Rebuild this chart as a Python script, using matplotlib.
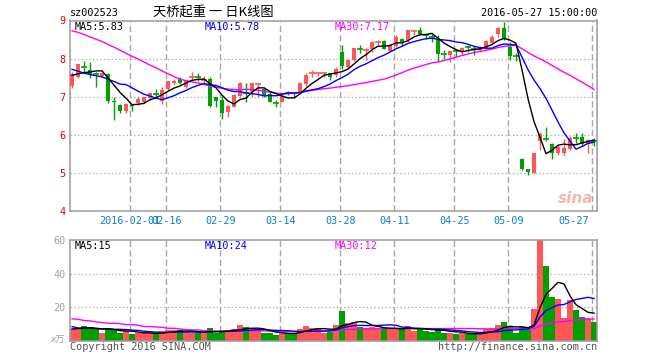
import matplotlib
matplotlib.use("Agg")
import matplotlib.pyplot as plt
import matplotlib.transforms as mtransforms
import numpy as np
import pandas as pd

# figure size in pixels, every position below is given in these pixels
W, H = 660, 360

# daily candles 2016-01-18 .. 2016-05-27 (index 0..87)
opens = [7.29, 7.53, 7.80, 7.70, 7.60, 7.54, 7.60, 6.90, 6.79, 6.62,
         6.79, 6.83, 6.87, 6.96, 7.08, 6.88, 7.20, 7.37, 7.47, 7.26,
         7.52, 7.54, 7.43, 7.46, 6.98, 6.92, 6.59, 6.74, 7.02, 7.10,
         7.13, 7.32, 7.19, 7.07, 6.84, 6.87, 7.12, 7.09, 7.13, 7.33,
         7.62, 7.60, 7.60, 7.61, 7.57, 8.18, 7.78, 7.96, 8.25, 8.23,
         8.26, 8.43, 8.46, 8.20, 8.32, 8.52, 8.48, 8.73, 8.74, 8.62,
         8.59, 8.52, 8.12, 8.09, 8.21, 8.18, 8.32, 8.25, 8.22, 8.29,
         8.41, 8.65, 8.81, 8.31, 8.07, 5.37, 5.09, 5.01, 5.83, 5.91,
         5.77, 5.51, 5.51, 5.63, 5.93, 5.94, 5.77, 5.84]
highs = [7.66, 7.87, 7.93, 7.92, 7.65, 7.64, 7.62, 7.00, 6.80, 6.84,
         6.82, 6.98, 7.00, 7.13, 7.20, 7.26, 7.41, 7.46, 7.52, 7.47,
         7.65, 7.62, 7.55, 7.52, 6.99, 7.02, 6.79, 7.07, 7.39, 7.35,
         7.37, 7.35, 7.25, 7.13, 6.92, 7.11, 7.16, 7.13, 7.38, 7.63,
         7.70, 7.66, 7.66, 7.63, 7.77, 8.35, 7.98, 8.29, 8.37, 8.27,
         8.46, 8.48, 8.50, 8.38, 8.61, 8.53, 8.76, 8.75, 8.83, 8.65,
         8.65, 8.61, 8.22, 8.20, 8.24, 8.31, 8.35, 8.32, 8.32, 8.50,
         8.61, 8.84, 8.96, 8.44, 8.15, 5.38, 5.10, 5.51, 6.07, 6.20,
         5.79, 5.72, 5.89, 5.96, 6.05, 6.05, 5.88, 5.92]
lows = [7.24, 7.48, 7.66, 7.48, 7.25, 7.51, 6.84, 6.40, 6.58, 6.58,
        6.63, 6.78, 6.83, 6.92, 6.96, 6.82, 7.17, 7.30, 7.33, 7.22,
        7.45, 7.42, 7.33, 6.72, 6.72, 6.41, 6.47, 6.72, 6.99, 6.85,
        7.00, 7.00, 7.00, 6.86, 6.73, 6.86, 7.04, 6.96, 7.11, 7.28,
        7.52, 7.54, 7.53, 7.44, 7.52, 7.74, 7.72, 7.94, 8.15, 7.96,
        8.18, 8.35, 8.24, 8.18, 8.31, 8.32, 8.44, 8.61, 8.61, 8.52,
        8.44, 7.91, 7.98, 7.91, 8.04, 8.09, 8.18, 8.09, 8.18, 8.26,
        8.38, 8.57, 8.48, 7.96, 7.94, 5.07, 4.94, 5.00, 5.60, 5.85,
        5.37, 5.48, 5.48, 5.61, 5.79, 5.70, 5.53, 5.70]
closes = [7.59, 7.85, 7.78, 7.58, 7.58, 7.61, 6.90, 6.85, 6.62, 6.82,
          6.76, 6.95, 6.98, 7.09, 7.06, 7.18, 7.40, 7.40, 7.37, 7.44,
          7.54, 7.52, 7.45, 6.76, 6.90, 6.57, 6.76, 7.05, 7.35, 7.08,
          7.35, 7.33, 7.05, 6.87, 6.82, 7.00, 7.10, 7.06, 7.37, 7.57,
          7.63, 7.62, 7.62, 7.53, 7.72, 7.80, 7.96, 8.28, 8.23, 8.24,
          8.44, 8.44, 8.26, 8.35, 8.57, 8.44, 8.74, 8.74, 8.65, 8.60,
          8.57, 8.13, 8.10, 8.19, 8.19, 8.28, 8.30, 8.23, 8.28, 8.46,
          8.58, 8.81, 8.52, 8.06, 8.05, 5.09, 5.02, 5.51, 6.02, 5.89,
          5.53, 5.68, 5.66, 5.92, 5.91, 5.77, 5.87, 5.83]
# volume in 万手
volumes = [6.8, 6.8, 8.8, 8.0, 6.8, 4.6, 7.6, 6.4, 4.6, 5.8,
           4.0, 4.8, 4.4, 4.4, 4.4, 4.8, 6.4, 6.4, 6.4, 4.8,
           4.8, 4.4, 4.8, 7.8, 4.8, 5.4, 6.0, 7.0, 9.4, 8.2,
           6.4, 6.4, 4.8, 4.8, 3.4, 4.4, 4.4, 4.4, 7.2, 8.8,
           7.8, 7.4, 4.8, 5.4, 9.4, 17.8, 10.4, 11.0, 8.4, 7.8,
           8.4, 7.2, 6.8, 7.2, 7.2, 6.8, 8.8, 5.8, 7.2, 6.0,
           5.4, 7.6, 4.8, 4.4, 4.2, 4.4, 4.0, 4.0, 4.0, 6.8,
           7.6, 9.4, 11.2, 8.0, 4.8, 8.0, 6.8, 18.6, 59.8, 44.8,
           25.8, 25.0, 13.8, 24.4, 18.4, 14.4, 13.6, 11.2]

# moving averages before enough days exist in the window
ma5_head = [7.56, 7.60, 7.63, 7.65]
ma10_head = [7.72, 7.67, 7.62, 7.58, 7.55, 7.52, 7.46, 7.40, 7.33]
ma30_head = [8.73, 8.69, 8.63, 8.57, 8.51, 8.45, 8.37, 8.30, 8.22, 8.14,
             8.06, 7.99, 7.91, 7.83, 7.76, 7.68, 7.60, 7.53, 7.46, 7.42,
             7.39, 7.36, 7.32, 7.28, 7.25, 7.22, 7.20, 7.19, 7.18]
vma5_head = [7.0, 7.2, 7.6, 7.8]
vma10_head = [8.4, 7.6, 7.4, 7.4, 7.2, 7.0, 7.0, 6.8, 6.8]
vma30_head = [13.0, 12.8, 12.0, 11.8, 11.2, 10.8, 10.4, 10.4, 10.2, 9.6,
              9.6, 9.2, 8.4, 8.4, 8.2, 8.0, 7.4, 7.4, 7.0, 6.6,
              6.4, 6.4, 6.0, 6.0, 5.6, 5.6, 5.6, 5.6, 5.6]

tick_idx = [10, 16, 25, 35, 45, 54, 64, 73, 87]
tick_labels = ["2016-02-01", "02-16", "02-29", "03-14", "03-28",
               "04-11", "04-25", "05-09", "05-27"]

RED = "#ff5757"
GREEN = "#00a000"
GRID = "#a8a8a8"
FRAME = "#9a9a9a"
MONO = "DejaVu Sans Mono"
FS = 7.3


def moving_avg(values, n, head):
    s = pd.Series(values, dtype=float).rolling(n).mean()
    s.iloc[:n - 1] = head
    return s.values


def box(x0, y0, x1, y1):
    return [x0 / W, 1 - y1 / H, (x1 - x0) / W, (y1 - y0) / H]


def ftext(x, y, s, **kw):
    kw.setdefault("family", MONO)
    kw.setdefault("fontsize", FS)
    kw.setdefault("va", "center")
    fig.text(x / W, 1 - y / H, s, **kw)


o = np.array(opens)
h = np.array(highs)
l = np.array(lows)
c = np.array(closes)
v = np.array(volumes)
idx = np.arange(len(c))
up = c >= o
cols = np.where(up, RED, GREEN)
grid_x = np.array(tick_idx) - 0.3

fig = plt.figure(figsize=(W / 100, H / 100), dpi=100)
ax = fig.add_axes(box(70, 20.5, 597, 211))
axv = fig.add_axes(box(70, 240, 597, 340.7))
xlim = ((70 - 72) / 6, (597 - 72) / 6)

for a in (ax, axv):
    a.set_xlim(*xlim)
    a.set_xticks([])
    for sp in a.spines.values():
        sp.set_color(FRAME)
        sp.set_linewidth(1.1)
    for gx in grid_x:
        a.axvline(gx, color=GRID, lw=1.0, ls=(0, (4.5, 2.3)), zorder=0)
    a.tick_params(axis="y", length=0, labelsize=FS, pad=3)
    for lab in a.get_yticklabels():
        lab.set_family(MONO)

# ---- price panel ----
ax.set_ylim(4, 9)
for gy in (5, 6, 7, 8):
    ax.axhline(gy, color=GRID, lw=0.9, ls=(0, (1, 2)), zorder=0)
ax.set_yticks(range(4, 10))
ax.set_yticklabels([str(t) for t in range(4, 10)], family=MONO, color="#e60000")

ax.vlines(idx, l, h, colors=cols, lw=1.0, zorder=2)
body = np.abs(c - o)
flat = body < 0.03
ax.bar(idx[~flat], body[~flat], bottom=np.minimum(o, c)[~flat], width=0.78,
       color=cols[~flat], linewidth=0, zorder=3)
ax.hlines(((o + c) / 2)[flat], idx[flat] - 0.42, idx[flat] + 0.42,
          colors=cols[flat], lw=1.2, zorder=3)

ax.plot(idx, moving_avg(c, 30, ma30_head), color="#ff00ff", lw=1.0, zorder=4)
ax.plot(idx, moving_avg(c, 10, ma10_head), color="#0000ff", lw=1.0, zorder=5)
ax.plot(idx, moving_avg(c, 5, ma5_head), color="black", lw=1.0, zorder=6)

# date labels under the price panel
trans = mtransforms.blended_transform_factory(ax.transData, ax.transAxes)
for k, (gx, txt) in enumerate(zip(grid_x, tick_labels)):
    last = k == len(tick_labels) - 1
    ax.text(gx - (0.6 if last else 0), -0.053, txt, transform=trans,
            ha="right" if last else "center", va="center",
            family=MONO, fontsize=FS, color="#0a7fd0", clip_on=False)

# sina watermark
ax.text(86.9, 4.32, "sina", ha="right", va="center", fontsize=11,
        style="italic", weight="bold", color="#f3b5b5", zorder=1)

# ---- volume panel ----
axv.set_ylim(0, 60)
for gy in (20, 40):
    axv.axhline(gy, color=GRID, lw=0.9, ls=(0, (1, 2)), zorder=0)
axv.set_yticks([20, 40, 60])
axv.set_yticklabels(["20", "40", "60"], family=MONO, color="#a0a0a0")
axv.bar(idx, v, width=0.84, color=cols, linewidth=0, zorder=2)
axv.plot(idx, moving_avg(v, 30, vma30_head), color="#ff00ff", lw=1.0, zorder=4)
axv.plot(idx, moving_avg(v, 10, vma10_head), color="#0000ff", lw=1.0, zorder=5)
axv.plot(idx, moving_avg(v, 5, vma5_head), color="black", lw=1.0, zorder=6)

# ---- texts ----
ftext(70, 13, "sz002523", ha="left")
ftext(213.5, 12.5, "天桥起重 一 日K线图", ha="center",
      family=["Noto Sans CJK SC", "DejaVu Sans"], fontsize=9.5)
ftext(597, 13, "2016-05-27 15:00:00", ha="right")

ftext(75, 26.5, "MA5:5.83", ha="left", color="black")
ftext(205, 26.5, "MA10:5.78", ha="left", color="#0000ff")
ftext(335, 26.5, "MA30:7.17", ha="left", color="#ff00ff")

ftext(75, 246, "MA5:15", ha="left", color="black")
ftext(205, 246, "MA10:24", ha="left", color="#0000ff")
ftext(335, 246, "MA30:12", ha="left", color="#ff00ff")

ftext(65, 340, "x万", ha="right", style="italic", color="#a0a0a0",
      family=["DejaVu Sans", "Noto Sans CJK SC"], fontsize=6.5)
ftext(70, 346.5, "Copyright 2016 SINA.COM", ha="left", color="#555555")
ftext(597, 346.5, "http://finance.sina.com.cn", ha="right", color="#555555")

fig.savefig("out.png", dpi=100)
